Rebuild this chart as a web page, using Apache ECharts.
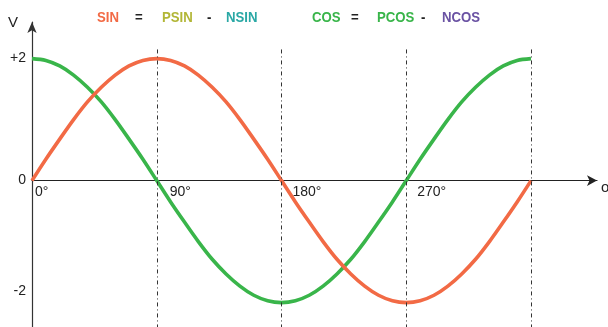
<!DOCTYPE html>
<html><head><meta charset="utf-8">
<script src="https://cdn.jsdelivr.net/npm/echarts@6/dist/echarts.min.js"></script>
<style>html,body{margin:0;padding:0;background:#fff;overflow:hidden}#c{width:608px;height:327px}</style>
</head><body><div id="c"></div>
<script>
// ---- data ----
const angles = [0,10,20,30,40,50,60,70,80,90,100,110,120,130,140,150,160,170,180,190,200,210,220,230,240,250,260,270,280,290,300,310,320,330,340,350,360];
const sinValues = [0,0.35,0.68,1.00,1.29,1.53,1.73,1.88,1.97,2.00,1.97,1.88,1.73,1.53,1.29,1.00,0.68,0.35,0,-0.35,-0.68,-1.00,-1.29,-1.53,-1.73,-1.88,-1.97,-2.00,-1.97,-1.88,-1.73,-1.53,-1.29,-1.00,-0.68,-0.35,0];
const cosValues = [2.00,1.97,1.88,1.73,1.53,1.29,1.00,0.68,0.35,0,-0.35,-0.68,-1.00,-1.29,-1.53,-1.73,-1.88,-1.97,-2.00,-1.97,-1.88,-1.73,-1.53,-1.29,-1.00,-0.68,-0.35,0,0.35,0.68,1.00,1.29,1.53,1.73,1.88,1.97,2.00];
const xTickValues = [0,90,180,270];
const xTickLabels = ['0°','90°','180°','270°'];
const guideAngles = [90,180,270,360];
const yTickValues = [2,0,-2];
const yTickLabels = ['+2','0','-2'];
const legendTexts = ['SIN','=','PSIN','-','NSIN','COS','=','PCOS','-','NCOS'];
const legendColors = ['#f26a45','#222','#b2b636','#222','#2aa8a5','#39b54a','#222','#39b54a','#222','#6a52a3'];
const legendX = [97,135,162,207,226,312,351,377,421,442];

const chart = echarts.init(document.getElementById('c'), null, {renderer:'canvas'});
const font = '"Liberation Sans", Arial, sans-serif';
const axisColor = '#222';

chart.setOption({
  animation:false,
  grid:{left:32,right:11,top:22,bottom:-1,containLabel:false},
  xAxis:{type:'value',min:0,max:407.6,
    axisLine:{show:true,onZero:true,symbol:['none','arrow'],symbolSize:[8,10],lineStyle:{color:axisColor,width:1.2}},
    axisTick:{show:false},axisLabel:{show:false},splitLine:{show:false}},
  yAxis:{type:'value',min:-2.4,max:2.6,
    axisLine:{show:true,onZero:false,symbol:['none','arrow'],symbolSize:[7,11],lineStyle:{color:'#333',width:1.2}},
    axisTick:{show:false},axisLabel:{show:false},splitLine:{show:false}},
  series:[
    {type:'line',name:'COS',data:angles.map((a,i)=>[a,cosValues[i]]),smooth:0.3,showSymbol:false,
     lineStyle:{color:'#39b54a',width:3.6},z:2,
     markLine:{silent:true,symbol:['none','none'],label:{show:false},
       lineStyle:{color:'#333',width:1,type:[4,3,1,3]},
       data:guideAngles.map(a=>[{coord:[a,2.15]},{coord:[a,-2.4]}])}},
    {type:'line',name:'SIN',data:angles.map((a,i)=>[a,sinValues[i]]),smooth:0.3,showSymbol:false,
     lineStyle:{color:'#f26a45',width:3.6},z:3}
  ]
});

const g = [];
const px = (x,y)=>chart.convertToPixel({gridIndex:0},[x,y]);
const xOff = [3,13,11,11];
xTickValues.forEach((v,i)=>{
  const p = px(v,0);
  g.push({type:'text',x:p[0]+xOff[i],y:p[1]+12,style:{text:xTickLabels[i],font:'14px '+font,fill:'#222',textVerticalAlign:'middle',textAlign:'left'}});
});
const yOff = [0,0,-11];
yTickValues.forEach((v,i)=>{
  const p = px(0,v);
  g.push({type:'text',x:p[0]-6,y:p[1]+yOff[i],style:{text:yTickLabels[i],font:'14px '+font,fill:'#222',textVerticalAlign:'middle',textAlign:'right'}});
});
g.push({type:'text',x:8,y:23,style:{text:'V',font:'15px '+font,fill:'#222',textVerticalAlign:'middle'}});
g.push({type:'text',x:601,y:188,style:{text:'o',font:'15px '+font,fill:'#222',textVerticalAlign:'middle'}});
legendTexts.forEach((t,i)=>{
  g.push({type:'text',x:legendX[i],y:18,scaleX:0.88,style:{text:t,font:'bold 15px '+font,fill:legendColors[i],textVerticalAlign:'middle'}});
});
chart.setOption({graphic:g});
</script>
</body></html>
